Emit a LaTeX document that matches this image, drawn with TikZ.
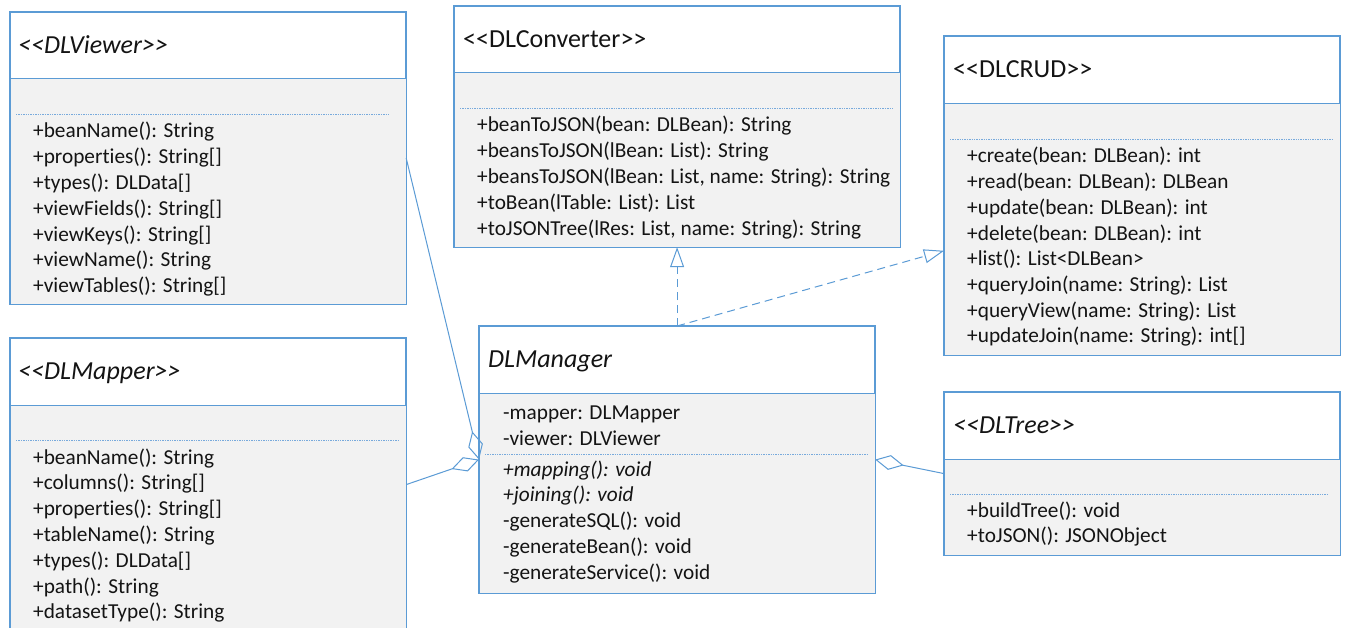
\documentclass[tikz,border=0pt]{standalone}
\usepackage{fontspec}
\setmainfont{Carlito}[Ligatures={TeXOff,CommonOff}]
\usetikzlibrary{arrows.meta}
\definecolor{umlblue}{RGB}{91,155,213}
\definecolor{dotblue}{RGB}{120,170,220}
\definecolor{bodygray}{RGB}{242,242,242}
\definecolor{ink}{RGB}{20,20,20}

% header + body compartments of a class box: #1 node, #2 header height (pt)
\newcommand\umlcompartments[2]{%
  \fill[bodygray] ([yshift=-#2pt]#1.north west) rectangle (#1.south east);
  \draw[frame] (#1.north west) rectangle (#1.south east);
  \draw[sep] ([yshift=-#2pt]#1.north west) -- ([yshift=-#2pt]#1.north east);
}

\begin{document}
\begin{tikzpicture}[x=1pt,y=-1pt,
  frame/.style={draw=umlblue, line width=1.2pt},
  classbox/.style={frame, fill=white, inner sep=0pt, anchor=north west},
  sep/.style={draw=umlblue, line width=1pt},
  dotsep/.style={draw=dotblue, line width=0.9pt, dash pattern=on 1.3pt off 1.1pt},
  lbl/.style={anchor=base west, inner sep=0pt, text=ink, font=\fontsize{21.3}{25.8}\selectfont},
  ilbl/.style={lbl, font=\fontsize{21.3}{25.8}\selectfont\itshape},
  ttl/.style={lbl, font=\fontsize{26}{30}\selectfont},
  ittl/.style={lbl, font=\fontsize{26}{30}\selectfont\itshape},
  realize/.style={draw=umlblue, line width=1pt, dash pattern=on 8pt off 5pt,
    -{Triangle[open, length=20pt, width=14pt, line width=1pt]}},
  aggr/.style={draw=umlblue, line width=1pt,
    -{Diamond[open, length=29pt, width=15pt, line width=1pt]}}
]
\useasboundingbox (0,0) rectangle (1346,628);
\fill[white] (0,0) rectangle (1346,628);

% ---------- <<DLViewer>>
\node[classbox, minimum width=395pt, minimum height=291pt] (viewer) at (10,12) {};
\umlcompartments{viewer}{67}
\draw[dotsep] (16,114) -- (390,114);
\node[ittl] (viewer-title) at (18,53.5) {<<DLViewer>>};
\foreach \t [count=\i] in {{+beanName(): String},{+properties(): String[]},{+types(): DLData[]},
  {+viewFields(): String[]},{+viewKeys(): String[]},{+viewName(): String},{+viewTables(): String[]}}
  \node[lbl] (viewer-op\i) at (33,{138+25.8*(\i-1)}) {\t};

% ---------- <<DLMapper>>
\node[classbox, minimum width=395pt, minimum height=292pt] (mapper) at (10,338) {};
\umlcompartments{mapper}{67}
\draw[dotsep] (16,440) -- (398,440);
\node[ittl] (mapper-title) at (18,379.5) {<<DLMapper>>};
\foreach \t [count=\i] in {{+beanName(): String},{+columns(): String[]},{+properties(): String[]},
  {+tableName(): String},{+types(): DLData[]},{+path(): String},{+datasetType(): String}}
  \node[lbl] (mapper-op\i) at (33,{464+25.8*(\i-1)}) {\t};

% ---------- <<DLConverter>>
\node[classbox, minimum width=445pt, minimum height=240pt] (converter) at (454,6) {};
\umlcompartments{converter}{67}
\draw[dotsep] (460,108) -- (893,108);
\node[ttl] (converter-title) at (463,48) {<<DLConverter>>};
\foreach \t [count=\i] in {{+beanToJSON(bean: DLBean): String},{+beansToJSON(lBean: List): String},
  {+beansToJSON(lBean: List, name: String): String},{+toBean(lTable: List): List},
  {+toJSONTree(lRes: List, name: String): String}}
  \node[lbl] (converter-op\i) at (477,{132+25.8*(\i-1)}) {\t};

% ---------- <<DLCRUD>>
\node[classbox, minimum width=395pt, minimum height=318pt] (crud) at (944,36) {};
\umlcompartments{crud}{68}
\draw[dotsep] (950,139) -- (1333,139);
\node[ttl] (crud-title) at (953,78) {<<DLCRUD>>};
\foreach \t [count=\i] in {{+create(bean: DLBean): int},{+read(bean: DLBean): DLBean},
  {+update(bean: DLBean): int},{+delete(bean: DLBean): int},{+list(): List<DLBean>},
  {+queryJoin(name: String): List},{+queryView(name: String): List},{+updateJoin(name: String): int[]}}
  \node[lbl] (crud-op\i) at (967,{163+25.7*(\i-1)}) {\t};

% ---------- DLManager
\node[classbox, minimum width=395pt, minimum height=266pt] (manager) at (479,326) {};
\umlcompartments{manager}{67}
\draw[dotsep] (485,454) -- (868,454);
\node[ittl] (manager-title) at (488,367.5) {DLManager};
\node[lbl] (manager-at1) at (503,419.5) {-mapper: DLMapper};
\node[lbl] (manager-at2) at (503,445.3) {-viewer: DLViewer};
\node[ilbl] (manager-op1) at (503,476) {+mapping(): void};
\node[ilbl] (manager-op2) at (503,501.8) {+joining(): void};
\node[lbl] (manager-op3) at (503,527.6) {-generateSQL(): void};
\node[lbl] (manager-op4) at (503,553.4) {-generateBean(): void};
\node[lbl] (manager-op5) at (503,579.2) {-generateService(): void};

% ---------- <<DLTree>>
\node[classbox, minimum width=395pt, minimum height=162pt] (tree) at (944,392) {};
\umlcompartments{tree}{67}
\draw[dotsep] (950,494) -- (1327,494);
\node[ittl] (tree-title) at (953,433.5) {<<DLTree>>};
\node[lbl] (tree-op1) at (967,517) {+buildTree(): void};
\node[lbl] (tree-op2) at (967,542.8) {+toJSON(): JSONObject};

% ---------- relations
\draw[realize] (manager.north) -- (converter.south);
\draw[realize] (manager.north) -- (crud);
\draw[aggr] (viewer.east) -- (manager.west);
\draw[aggr] (mapper.east) -- (manager.west);
\draw[aggr] (tree.west) -- (manager.east);
\end{tikzpicture}
\end{document}
